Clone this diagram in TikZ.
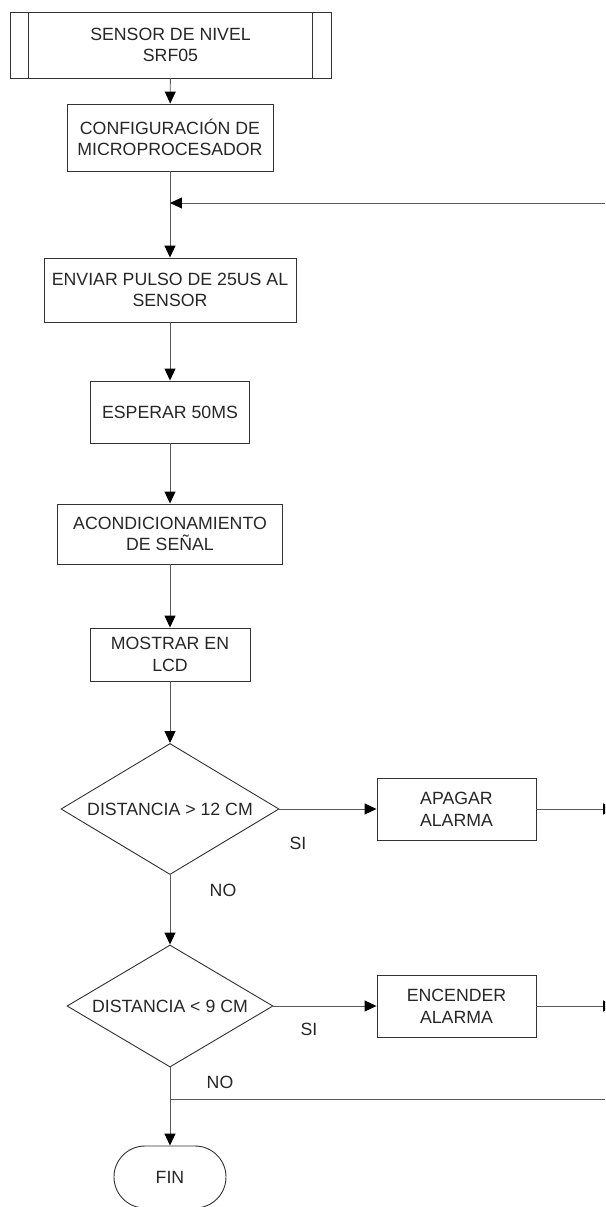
\documentclass[tikz,border=0pt]{standalone}
\usepackage{fontspec}
\setmainfont{Liberation Sans}
\usetikzlibrary{shapes.geometric,arrows.meta,calc}

\tikzset{
  base/.style = {draw=black!80, line width=0.65pt, text=black!85, align=center,
                 font=\fontsize{12.6}{15.4}\selectfont, inner sep=1pt},
  proc/.style = {base, rectangle},
  decision/.style = {base, diamond, aspect=1.66, inner sep=0pt},
  term/.style = {base, rectangle, rounded corners=0.775cm},
  lbl/.style = {text=black!85, font=\fontsize{12.6}{15.4}\selectfont},
  flow/.style = {draw=black!65, line width=0.65pt, -{Triangle[width=7.8pt,length=8.5pt,black]}},
  wire/.style = {draw=black!65, line width=0.65pt}
}

\begin{document}
\begin{tikzpicture}[x=0.025cm, y=-0.025cm]
  \useasboundingbox (0,0) rectangle (605,1207);
  \clip (0,0) rectangle (605,1207);

  % process column
  \node[proc, minimum width=8.025cm, minimum height=1.65cm] (sensor) at (170.5,45) {SENSOR DE NIVEL\\SRF05};
  \draw[base] ($(sensor.north west)+(19,0)$) -- ($(sensor.south west)+(19,0)$);
  \draw[base] ($(sensor.north east)+(-19,0)$) -- ($(sensor.south east)+(-19,0)$);
  \node[proc, minimum width=5.15cm, minimum height=1.675cm] (config) at (170,137.5) {CONFIGURACIÓN DE\\MICROPROCESADOR};
  \node[proc, minimum width=6.3cm, minimum height=1.6cm] (enviar) at (170,290) {ENVIAR PULSO DE 25US AL\\SENSOR};
  \node[proc, minimum width=3.975cm, minimum height=1.55cm] (esperar) at (170,412) {ESPERAR 50MS};
  \node[proc, minimum width=5.625cm, minimum height=1.5cm] (acond) at (170,534) {ACONDICIONAMIENTO\\DE SEÑAL};
  \node[proc, minimum width=4.0cm, minimum height=1.325cm] (mostrar) at (170,654.5) {MOSTRAR EN\\LCD};

  % decisions
  \node[decision, minimum width=5.45cm, minimum height=3.275cm] (dist12) at (170,809) {DISTANCIA > 12 CM};
  \node[proc, minimum width=3.975cm, minimum height=1.55cm] (apagar) at (456.5,809) {APAGAR\\ALARMA};
  \node[decision, minimum width=5.15cm, minimum height=3.05cm] (dist9) at (170,1006) {DISTANCIA < 9 CM};
  \node[proc, minimum width=3.975cm, minimum height=1.55cm] (encender) at (456.5,1006) {ENCENDER\\ALARMA};
  \node[term, minimum width=2.8cm, minimum height=1.55cm] (fin) at (170,1177) {FIN};

  % labels
  \node[lbl] (si12) at (298,843) {SI};
  \node[lbl] (no12) at (223,890) {NO};
  \node[lbl] (si9) at (309,1029) {SI};
  \node[lbl] (no9) at (220,1082) {NO};

  % return points off the right edge
  \coordinate (loopin) at (620,203);
  \coordinate (loopjoin) at (170,203);
  \coordinate (apagarout) at (615,809);
  \coordinate (encenderout) at (615,1006);
  \coordinate (nojoin) at (170,1099);
  \coordinate (noout) at (620,1099);

  % connectors
  \draw[flow] (sensor) -- (config);
  \draw[flow] (config) -- (enviar);
  \draw[flow] (loopin) -- (loopjoin);
  \draw[flow] (enviar) -- (esperar);
  \draw[flow] (esperar) -- (acond);
  \draw[flow] (acond) -- (mostrar);
  \draw[flow] (mostrar) -- (dist12);
  \draw[flow] (dist12.east) -- (apagar.west);
  \draw[flow] (apagar.east) -- (apagarout);
  \draw[flow] (dist12.south) -- (dist9.north);
  \draw[flow] (dist9.east) -- (encender.west);
  \draw[flow] (encender.east) -- (encenderout);
  \draw[flow] (dist9.south) -- (fin.north);
  \draw[wire] (nojoin) -- (noout);
\end{tikzpicture}
\end{document}
